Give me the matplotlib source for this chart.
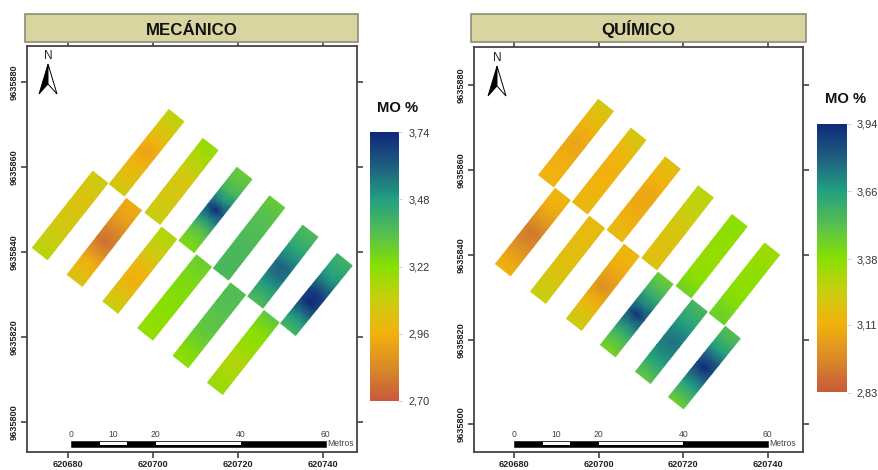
import numpy as np
import matplotlib
matplotlib.use("Agg")
import matplotlib.pyplot as plt
from matplotlib.colors import LinearSegmentedColormap
from matplotlib.patches import Polygon, Rectangle
from matplotlib.ticker import FixedLocator, FuncFormatter

plt.rcParams['font.family'] = ['Liberation Sans', 'DejaVu Sans']

E0 = 620680
N0 = 9635840
x_ticks = [620680, 620700, 620720, 620740]
y_ticks = [9635800, 9635820, 9635840, 9635860, 9635880]

# plot ends (offset metres from E0/N0): x start, y start, x end, y end
mec_plots = [
    (-6.6, -0.4, 7.6, 17.6), (11.5, 14.6, 25.5, 32.1), (1.6, -6.7, 15.5, 11.2),
    (19.9, 7.9, 33.5, 25.3), (10.0, -13.0, 23.8, 4.4), (27.9, 1.3, 41.5, 18.5),
    (18.2, -19.3, 32.0, -2.1), (36.0, -5.2, 49.2, 11.8), (26.5, -25.8, 40.0, -8.7),
    (44.1, -11.8, 57.0, 4.9), (34.6, -32.1, 47.9, -15.2), (51.8, -18.2, 65.1, -1.8),
]
mec_values = [
    [3.13, 3.10, 3.08, 3.06, 3.05, 3.04, 3.04, 3.06, 3.08],
    [3.07, 3.03, 3.00, 2.96, 2.91, 2.96, 3.04, 3.08, 3.12],
    [3.05, 3.00, 2.95, 2.85, 2.75, 2.80, 2.88, 2.92, 2.94],
    [3.10, 3.08, 3.06, 3.05, 3.05, 3.08, 3.13, 3.17, 3.20],
    [3.10, 3.05, 3.00, 2.95, 2.97, 3.03, 3.08, 3.12, 3.15],
    [3.24, 3.28, 3.36, 3.52, 3.74, 3.50, 3.38, 3.33, 3.30],
    [3.20, 3.20, 3.21, 3.22, 3.23, 3.24, 3.25, 3.27, 3.30],
    [3.38, 3.38, 3.38, 3.38, 3.37, 3.36, 3.35, 3.33, 3.30],
    [3.20, 3.23, 3.27, 3.31, 3.33, 3.33, 3.35, 3.36, 3.35],
    [3.36, 3.42, 3.50, 3.58, 3.60, 3.52, 3.45, 3.40, 3.37],
    [3.19, 3.17, 3.15, 3.13, 3.17, 3.20, 3.21, 3.26, 3.33],
    [3.38, 3.46, 3.58, 3.74, 3.70, 3.58, 3.48, 3.44, 3.40],
]
qui_plots = [
    (7.6, 17.5, 21.7, 35.3), (-2.6, -3.5, 11.5, 14.3), (15.6, 11.1, 29.4, 28.5),
    (5.7, -10.0, 19.6, 7.7), (23.8, 4.5, 37.5, 21.7), (14.2, -16.4, 27.8, 1.1),
    (32.0, -2.1, 45.3, 14.9), (22.2, -22.6, 35.8, -5.5), (40.1, -8.7, 53.3, 8.1),
    (30.5, -28.9, 43.9, -12.0), (47.9, -15.1, 61.0, 1.4), (38.3, -34.9, 51.7, -18.3),
]
qui_values = [
    [3.12, 3.11, 3.10, 3.08, 3.06, 3.09, 3.13, 3.17, 3.22],
    [3.12, 3.07, 3.02, 2.95, 2.91, 3.00, 3.07, 3.11, 3.13],
    [3.14, 3.13, 3.12, 3.11, 3.10, 3.11, 3.13, 3.18, 3.22],
    [3.26, 3.23, 3.20, 3.18, 3.17, 3.16, 3.15, 3.14, 3.15],
    [3.14, 3.13, 3.10, 3.08, 3.07, 3.08, 3.11, 3.14, 3.17],
    [3.24, 3.20, 3.14, 3.08, 2.98, 3.05, 3.09, 3.11, 3.13],
    [3.18, 3.17, 3.17, 3.19, 3.21, 3.23, 3.26, 3.27, 3.28],
    [3.43, 3.50, 3.60, 3.72, 3.92, 3.72, 3.62, 3.52, 3.46],
    [3.46, 3.40, 3.37, 3.36, 3.36, 3.36, 3.37, 3.38, 3.38],
    [3.48, 3.58, 3.66, 3.72, 3.76, 3.72, 3.66, 3.60, 3.55],
    [3.46, 3.44, 3.40, 3.38, 3.37, 3.37, 3.36, 3.35, 3.34],
    [3.45, 3.55, 3.66, 3.78, 3.94, 3.80, 3.66, 3.58, 3.52],
]
mec_scale = [2.70, 2.96, 3.22, 3.48, 3.74]
qui_scale = [2.83, 3.11, 3.38, 3.66, 3.94]
mec_labels = ['2,70', '2,96', '3,22', '3,48', '3,74']
qui_labels = ['2,83', '3,11', '3,38', '3,66', '3,94']
bar_edges = [0, 6.8, 13.2, 20, 40, 60]
bar_labels = [0, 10, 20, 40, 60]

cmap = LinearSegmentedColormap.from_list('mo', [
    (0.00, '#c85a3c'), (0.12, '#d98a28'), (0.25, '#f2b20e'), (0.38, '#c8d010'),
    (0.50, '#88e000'), (0.62, '#58c050'), (0.75, '#23a080'), (0.87, '#1f6080'),
    (1.00, '#10287c')])

W, H = 879, 470
fig = plt.figure(figsize=(W / 100, H / 100), dpi=100, facecolor='white')


def box(x0, y0, x1, y1):
    return [x0 / W, 1 - y1 / H, (x1 - x0) / W, (y1 - y0) / H]


def panel(frame, xlim, ylim, plots, values, scale, labels, title, banner,
          legend, mo_xy, north_x, north_y, bar_x0):
    ax = fig.add_axes(box(*frame))
    vmin, vmax = scale[0], scale[-1]
    half = 2.25
    for (x0, y0, x1, y1), v in zip(plots, values):
        v = np.array(v)
        t = np.linspace(0, 1, len(v))
        d = np.array([x1 - x0, y1 - y0])
        n = np.array([d[1], -d[0]]) / np.hypot(*d) * half
        xc, yc = E0 + x0 + t * d[0], N0 + y0 + t * d[1]
        X = np.vstack([xc - n[0], xc, xc + n[0]])
        Y = np.vstack([yc - n[1], yc, yc + n[1]])
        # the long edges of a plot read softer than its centre line
        edge = np.convolve(np.pad(v, 1, mode='edge'), [0.25, 0.5, 0.25], mode='valid')
        ax.pcolormesh(X, Y, np.vstack([edge, v, edge]), cmap=cmap, vmin=vmin, vmax=vmax,
                      shading='gouraud')
    ax.set_xlim(*xlim)
    ax.set_ylim(*ylim)
    ax.xaxis.set_major_locator(FixedLocator(x_ticks))
    ax.yaxis.set_major_locator(FixedLocator(y_ticks))
    fmt = FuncFormatter(lambda v, _: f'{v:.0f}')
    ax.xaxis.set_major_formatter(fmt)
    ax.yaxis.set_major_formatter(fmt)
    ax.tick_params(top=True, right=True, length=4.0, width=1.1, color='#333333',
                   labelsize=6.6, pad=2, labelcolor='#222222')
    plt.setp(ax.get_xticklabels(), fontweight='bold')
    plt.setp(ax.get_yticklabels(), rotation=90, va='center', fontweight='bold')
    for s in ax.spines.values():
        s.set_linewidth(1.3)
        s.set_color('#444444')

    # title banner
    fig.add_artist(Rectangle((banner[0] / W, 1 - banner[3] / H),
                             (banner[2] - banner[0]) / W, (banner[3] - banner[1]) / H,
                             transform=fig.transFigure, fc='#d8d5a0', ec='#8c8c78', lw=1.2))
    fig.text((banner[0] + banner[2]) / 2 / W, 1 - 35 / H, title,
             ha='center', va='baseline', fontsize=12.2, fontweight='bold', color='#111111')

    # legend ramp
    lax = fig.add_axes(box(*legend))
    lax.imshow(np.linspace(vmax, vmin, 256)[:, None], cmap=cmap, vmin=vmin, vmax=vmax,
               aspect='auto', extent=[0, 1, vmin, vmax])
    lax.set_xticks([])
    lax.yaxis.tick_right()
    lax.set_yticks(scale)
    lax.set_yticklabels(labels, fontsize=7.9, color='#333333')
    lax.tick_params(axis='y', length=3, width=0.6, color='#c8c8c8', pad=4)
    for s in lax.spines.values():
        s.set_visible(False)
    fig.text(mo_xy[0] / W, 1 - mo_xy[1] / H, 'MO %', ha='center', va='center',
             fontsize=10.6, fontweight='bold', color='#111111')

    # north arrow
    def px(x, y):
        return (x / W, 1 - y / H)
    fig.text(north_x / W, 1 - (north_y - 1) / H, 'N', ha='center', va='center',
             fontsize=8.5, color='#222222')
    tip, bl, br, notch = (north_x, north_y + 7), (north_x - 9, north_y + 37), \
        (north_x + 9, north_y + 37), (north_x, north_y + 27)
    fig.add_artist(Polygon([px(*tip), px(*bl), px(*notch)], closed=True,
                           transform=fig.transFigure, fc='black', ec='black', lw=0.6))
    fig.add_artist(Polygon([px(*tip), px(*br), px(*notch)], closed=True,
                           transform=fig.transFigure, fc='white', ec='black', lw=0.7))

    # scale bar, drawn in map metres
    bar_y = ylim[0] + 1.2
    bx = E0 + bar_x0
    ax.add_patch(Rectangle((bx, bar_y), 60, 1.4, fc='black', ec='black', lw=0.4, zorder=5))
    for i in (1, 3):
        ax.add_patch(Rectangle((bx + bar_edges[i], bar_y + 0.4),
                               bar_edges[i + 1] - bar_edges[i], 0.75,
                               fc='white', ec='none', zorder=6))
    for m in bar_labels:
        ax.text(bx + m, bar_y + 1.8, str(m), ha='center', va='bottom', fontsize=6.2,
                color='#444444')
    ax.text(bx + 60.3, bar_y + 0.7, 'Metros', ha='left', va='center', fontsize=6.2,
            color='#444444')


panel((27, 46, 357, 452), (E0 - 9.65, E0 + 68.0), (N0 - 47.06, N0 + 48.47),
      mec_plots, mec_values, mec_scale, mec_labels, 'MECÁNICO', (25, 14, 358, 42),
      (370, 132, 398.5, 401), (398, 108), 48, 57, 0.65)
panel((474, 46.5, 803, 452), (E0 - 9.46, E0 + 68.3), (N0 - 46.5, N0 + 49.2),
      qui_plots, qui_values, qui_scale, qui_labels, 'QUÍMICO', (471, 14, 806, 42),
      (817, 123.5, 847, 392.5), (846, 99), 497, 59, 0.0)

fig.savefig('out.png', dpi=100)
